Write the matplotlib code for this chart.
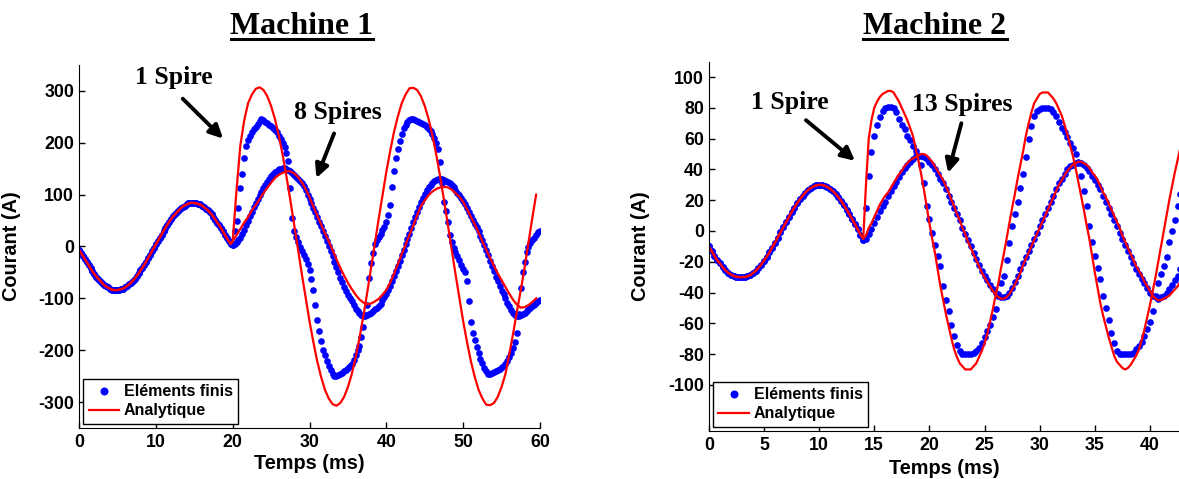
import numpy as np
import matplotlib
matplotlib.use('Agg')
import matplotlib.pyplot as plt
from matplotlib.lines import Line2D

plt.rcParams['font.family'] = ['Liberation Sans', 'DejaVu Sans']
plt.rcParams['font.weight'] = 'bold'
plt.rcParams['axes.unicode_minus'] = False

# ---------------- Machine 1 (courant en A, pas de 0.25 ms) ----------------
# partie commune 0 -> 19.75 ms
m1_commun = [
    -6, -12, -18, -24, -30, -36, -42, -48,
    -53, -58, -62, -66, -70, -74, -77, -79,
    -81, -83, -84, -84, -84, -83, -82, -81,
    -79, -76, -73, -70, -66, -62, -57, -52,
    -46, -41, -35, -29, -22, -16, -9, -3,
    4, 10, 17, 23, 30, 36, 42, 48,
    53, 58, 62, 66, 70, 74, 77, 79,
    81, 83, 84, 84, 84, 83, 82, 81,
    79, 76, 73, 70, 66, 62, 57, 52,
    46, 41, 35, 29, 22, 16, 10, 5,
]
# elements finis 20 -> 60 ms (pas 0.25 ms)
m1_ef_1sp = [
    2, 30, 50, 75, 113, 140, 170, 193,
    206, 214, 220, 226, 231, 236, 242, 245,
    243, 240, 238, 235, 232, 229, 225, 220,
    214, 207, 200, 192, 181, 165, 112, 55,
    30, 19, 8, -1, -9, -17, -25, -33,
    -46, -62, -84, -112, -141, -163, -183, -199,
    -210, -220, -230, -239, -245, -249, -249, -247,
    -245, -243, -241, -238, -235, -231, -226, -219,
    -209, -200, -192, -175, -155, -132, -112, -60,
    -32, -12, 4, 12, 19, 25, 31, 37,
    48, 60, 80, 115, 145, 170, 188, 203,
    217, 228, 235, 240, 244, 246, 245, 243,
    242, 241, 239, 237, 234, 231, 227, 222,
    216, 209, 200, 188, 162, 122, 85, 68,
    48, 22, 8, -3, -11, -18, -26, -36,
    -44, -50, -67, -105, -145, -166, -180, -194,
    -205, -216, -225, -234, -241, -246, -246, -244,
    -242, -240, -238, -236, -233, -230, -226, -221,
    -214, -205, -195, -185, -167, -130, -80, -50,
    -30, -10, -1, 6, 12, 17, 22, 27,
    30,
]
m1_ef_8sp = [
    2, 4, 8, 12, 17, 24, 32, 41,
    50, 58, 67, 76, 84, 92, 99, 105,
    112, 119, 125, 130, 135, 139, 143, 146,
    149, 150, 151, 151, 149, 147, 145, 142,
    138, 134, 131, 127, 122, 116, 108, 99,
    91, 83, 75, 66, 57, 48, 40, 30,
    21, 10, 1, -9, -19, -29, -40, -50,
    -60, -69, -78, -86, -93, -99, -106, -113,
    -120, -125, -129, -132, -134, -134, -133, -131,
    -128, -125, -121, -118, -115, -111, -103, -97,
    -91, -84, -76, -67, -57, -47, -37, -27,
    -17, -6, 5, 15, 25, 36, 47, 57,
    67, 77, 85, 93, 101, 108, 114, 119,
    123, 126, 129, 130, 130, 130, 129, 127,
    125, 123, 119, 114, 109, 104, 99, 94,
    88, 81, 74, 66, 58, 51, 44, 37,
    29, 21, 12, 3, -7, -17, -28, -38,
    -48, -58, -67, -76, -85, -92, -100, -108,
    -115, -122, -128, -133, -134, -134, -133, -131,
    -128, -125, -121, -118, -115, -112, -109, -106,
    -104,
]
# analytique 20 -> 59.5 ms (pas 0.5 ms)
m1_an_1sp = [
    10, 108, 195, 243, 276, 293, 304, 307,
    302, 290, 271, 246, 214, 177, 135, 90,
    43, -5, -53, -99, -144, -184, -221, -251,
    -276, -293, -304, -307, -302, -290, -271, -246,
    -214, -177, -135, -90, -43, 5, 53, 99,
    144, 184, 221, 251, 276, 293, 305, 306,
    302, 290, 271, 246, 214, 177, 135, 90,
    43, -5, -53, -99, -144, -184, -221, -251,
    -276, -293, -305, -306, -302, -290, -271, -246,
    -208, -168, -125, -84, -40, 8, 55, 100,
]
m1_an_8sp = [
    10, 22, 34, 46, 57, 69, 80, 91,
    103, 113, 123, 132, 138, 142, 145, 145,
    141, 134, 124, 111, 95, 77, 60, 43,
    26, 10, -7, -24, -41, -56, -70, -82,
    -93, -102, -108, -111, -110, -106, -101, -93,
    -84, -70, -53, -34, -15, 3, 22, 40,
    60, 78, 89, 99, 106, 111, 114, 115,
    114, 110, 103, 96, 86, 72, 57, 43,
    27, 10, -6, -22, -37, -52, -65, -78,
    -91, -103, -112, -118, -117, -113, -107, -100,
]

# ---------------- Machine 2 (pas de 0.25 ms) ----------------
# partie commune 0 -> 13.75 ms
m2_commun = [
    -10, -13, -16, -19, -21, -23.5, -25.5, -27,
    -28.3, -29.2, -29.7, -30, -30, -29.9, -29.5, -28.7,
    -27.4, -25.9, -24.0, -21.9, -19.4, -16.8, -13.9, -10.8,
    -7.6, -4.3, -0.9, 2.4, 5.7, 9.0, 12.2, 15.1,
    17.9, 20.5, 22.8, 24.9, 26.6, 28.0, 29.0, 29.7,
    30.0, 29.9, 29.4, 28.6, 27.4, 25.9, 24.1, 21.9,
    19.5, 16.8, 13.9, 10.9, 7.7, 4.4, 1.0, -2.3,
]
# 14 -> 43 ms
m2_ef_1sp = [
    -6, 15, 36, 51, 62, 69, 74, 78,
    80, 80.5, 80.5, 80, 77, 73, 69, 66,
    62, 59, 55, 52, 49, 43, 31, 16,
    8, -1, -9, -16, -23, -36, -45, -52,
    -61, -68, -74, -78, -80, -80, -80, -80,
    -79.5, -78, -76, -73, -69, -65, -61, -56,
    -51, -41, -34, -29, -19, -8, 3, 11,
    19, 28, 37, 48, 60, 68, 75, 78,
    79.5, 80, 80, 80, 79, 77, 75, 71,
    67, 64, 61, 57, 54, 50, 45, 36,
    26, 16, 3, -7, -16, -24, -31, -42,
    -50, -58, -66, -73, -78, -80, -80, -80,
    -80, -80, -79, -77, -75, -72, -68, -64,
    -59, -52, -42, -34, -28, -23, -17, -7,
    0, 7, 16, 24, 32,
]
m2_ef_13sp = [
    -6, -5, -2, 1, 5, 9, 13, 16,
    19, 23, 26, 29, 32, 35, 38, 41,
    43, 45, 47, 48.5, 49, 49, 48, 47,
    45, 43, 40, 37, 34, 31, 27, 23,
    19, 15, 11, 7, 2, -2, -6, -10,
    -14, -18, -22, -26, -29, -32, -35, -38,
    -40, -42, -43, -43, -42, -40, -37, -33,
    -29, -25, -21, -17, -13, -9, -5, -1,
    3, 7, 11, 15, 19, 23, 27, 31,
    34, 37, 40, 42, 43, 44, 44, 44,
    43, 41, 39, 36, 33, 30, 27, 23,
    19, 15, 11, 7, 3, -1, -5, -9,
    -13, -17, -21, -25, -28, -31, -34, -37,
    -40, -42, -43, -44, -43, -42, -40, -38,
    -35, -32, -29, -25, -21,
]
m2_an_1sp = [
    -5, 30, 60, 72, 80, 84, 87, 89,
    90, 91, 91, 90, 87, 84, 80, 76,
    72, 67, 62, 54, 46, 37, 27, 16,
    5, -5, -14, -25, -36, -45, -54, -62,
    -70, -77, -82, -86, -88, -90, -90, -90,
    -88, -86, -82, -78, -73, -67, -59, -51,
    -42, -34, -24, -15, -5, 5, 15, 24,
    34, 43, 52, 62, 70, 77, 83, 86,
    89, 90, 90, 90, 88, 86, 83, 79,
    75, 69, 63, 56, 49, 41, 32, 23,
    14, 4, -5, -16, -27, -37, -47, -55,
    -62, -69, -75, -81, -85, -87, -89, -90,
    -89, -87, -84, -81, -77, -71, -64, -56,
    -48, -39, -30, -20, -10, 0, 10, 20,
    29, 38, 46, 54, 62,
]
m2_an_13sp = [
    -5, -3, 2, 5, 9, 13, 17, 20,
    23, 25, 28, 31, 34, 37, 39, 42,
    44, 46, 47, 48, 49, 50, 50, 49,
    47, 45, 42, 39, 36, 33, 29, 25,
    20, 16, 11, 7, 2, -2, -7, -11,
    -15, -19, -23, -27, -30, -33, -36, -39,
    -41, -43, -44, -44, -43, -41, -38, -35,
    -31, -27, -22, -18, -14, -10, -6, -2,
    2, 6, 10, 14, 18, 22, 26, 30,
    33, 36, 39, 41, 43, 44, 45, 45,
    44, 43, 41, 38, 36, 33, 29, 25,
    22, 18, 14, 10, 6, 2, -3, -7,
    -11, -15, -19, -23, -26, -29, -33, -36,
    -39, -42, -44, -45, -45, -44, -43, -42,
    -40, -38, -36, -33, -31,
]

# axes temporels
t1_ef = np.arange(len(m1_commun) + len(m1_ef_1sp)) * 0.25
t1_an = np.concatenate([np.arange(len(m1_commun)) * 0.25,
                        20 + np.arange(len(m1_an_1sp)) * 0.5])
t2 = np.arange(len(m2_commun) + len(m2_ef_1sp)) * 0.25

W, H = 1179, 479
fig = plt.figure(figsize=(W / 100, H / 100), dpi=100)
ax1 = fig.add_axes([79 / W, (H - 428) / H, 461 / W, 363 / H])
ax2 = fig.add_axes([708.8 / W, (H - 431) / H, 470.2 / W, 369.3 / H])

serif = dict(family=['Liberation Serif', 'DejaVu Serif'], weight='bold')


def trace(ax, t_ef, commun_ef, ef_series, t_an, commun_an, an_series):
    h_ef = h_an = None
    for s in ef_series:
        h_ef, = ax.plot(t_ef, list(commun_ef) + list(s), 'o', color='blue',
                        ms=4.8, mec='none')
    for s in an_series:
        h_an, = ax.plot(t_an, list(commun_an) + list(s), '-', color='red', lw=1.6)
    return h_ef, h_an


h1 = trace(ax1, t1_ef, m1_commun, [m1_ef_1sp, m1_ef_8sp],
           t1_an, m1_commun, [m1_an_1sp, m1_an_8sp])
h2 = trace(ax2, t2, m2_commun, [m2_ef_1sp, m2_ef_13sp],
           t2, m2_commun, [m2_an_1sp, m2_an_13sp])

ax1.set_xlim(0, 60)
ax1.set_ylim(-350, 350)
ax1.set_xticks(np.arange(0, 61, 10))
ax1.set_yticks(np.arange(-300, 301, 100))

ax2.set_xlim(0, 42.63)
ax2.set_ylim(-130, 110)
ax2.set_xticks(np.arange(0, 41, 5))
ax2.set_yticks(np.arange(-100, 101, 20))

for ax, h, ylab in [(ax1, h1, -0.072), (ax2, h2, -0.076)]:
    ax.spines['top'].set_visible(False)
    ax.spines['right'].set_visible(False)
    ax.tick_params(direction='in', length=4, width=1, labelsize=12.8)
    ax.tick_params(axis='x', pad=4)
    ax.tick_params(axis='y', pad=3.5)
    ax.set_xlabel('Temps (ms)', fontsize=14.3, fontweight='bold')
    ax.set_ylabel('Courant (A)', fontsize=14.3, fontweight='bold')
    ax.yaxis.set_label_coords(-0.125, 0.5)
    ax.xaxis.set_label_coords(0.5, ylab)
    leg = ax.legend(h, ['Eléments finis', 'Analytique'], loc='lower left',
                    fontsize=11.5, numpoints=1, markerscale=1.2,
                    handlelength=1.9, handletextpad=0.3, labelspacing=0.25,
                    borderpad=0.35, borderaxespad=0.25, fancybox=False,
                    edgecolor='k', framealpha=1)
    leg.get_frame().set_linewidth(1.0)

# annotations
arrow = dict(arrowstyle='-|>', color='k', lw=2.8, mutation_scale=20,
             shrinkA=0, shrinkB=0)
ax1.text(12.4, 314, '1 Spire', ha='center', va='baseline', size=18.5, **serif)
ax1.annotate('', xy=(18.75, 208), xytext=(13.5, 285), arrowprops=arrow)
ax1.text(33.7, 246, '8 Spires', ha='center', va='baseline', size=18.5, **serif)
ax1.annotate('', xy=(30.9, 132), xytext=(33.2, 218), arrowprops=arrow)

ax2.text(7.36, 79, '1 Spire', ha='center', va='baseline', size=18.5, **serif)
ax2.annotate('', xy=(13.25, 45.6), xytext=(8.81, 72), arrowprops=arrow)
ax2.text(23.0, 78, '13 Spires', ha='center', va='baseline', size=18.5, **serif)
ax2.annotate('', xy=(21.7, 37.8), xytext=(22.9, 70), arrowprops=arrow)

# titres soulignes
titres = []
for x, txt in [(302, 'Machine 1'), (935, 'Machine 2')]:
    titres.append(fig.text(x / W, 1 - 33.5 / H, txt, ha='center', va='baseline',
                           size=23, **serif))
fig.canvas.draw()
for t in titres:
    bb = t.get_window_extent()
    y = 1 - 38.5 / H
    fig.add_artist(Line2D([bb.x0 / W, bb.x1 / W], [y, y], transform=fig.transFigure,
                          color='k', lw=2.2))

fig.savefig('out.png', dpi=100)
